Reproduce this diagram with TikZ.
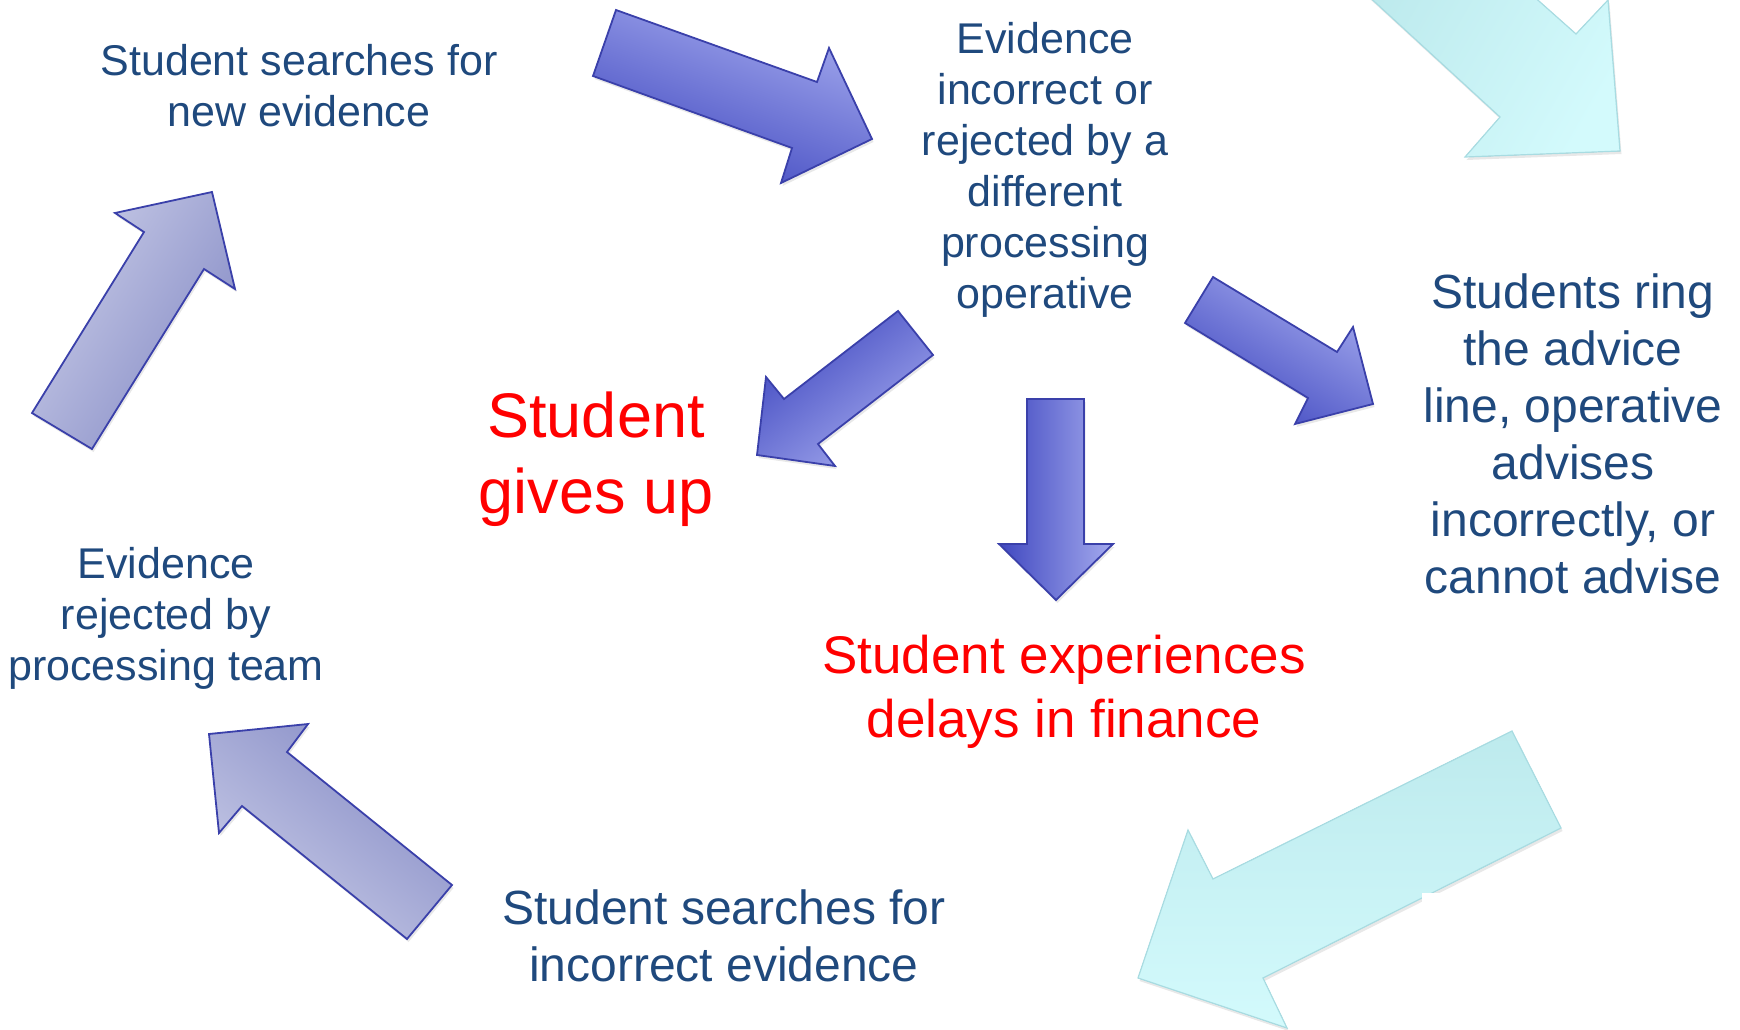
\documentclass[tikz,border=0pt]{standalone}
\usepackage{fontspec}
\setmainfont{Liberation Sans}
\usepackage{tikz}
\usetikzlibrary{shadows}
\definecolor{navytext}{HTML}{1F497D}
\definecolor{alarmred}{HTML}{FF0000}
\definecolor{bluedark}{HTML}{4048C0}
\definecolor{bluelight}{HTML}{A4AAEE}
\definecolor{blueline}{HTML}{3A40AA}
\definecolor{lilacdark}{HTML}{868CC6}
\definecolor{lilaclight}{HTML}{C8CBE7}
\definecolor{cyandark}{HTML}{BDEAED}
\definecolor{cyanlight}{HTML}{D3FAFC}
\definecolor{cyanline}{HTML}{A8DCE2}
\tikzset{
  every node/.style = {inner sep=0pt, align=center, anchor=north},
}

\begin{document}
\begin{tikzpicture}[
    x=1pt, y=-1pt,
    softshadow/.style={drop shadow={opacity=0.18, shadow xshift=1.5pt, shadow yshift=-3pt}},
    bluearrow/.style={draw=blueline, line width=1.8pt, line join=miter, left color=bluedark, right color=bluelight, shading angle=#1, softshadow},
    lilacarrow/.style={draw=blueline, line width=1.8pt, line join=miter, left color=lilacdark, right color=lilaclight, shading angle=#1, softshadow},
    cyanarrow/.style={draw=cyanline, line width=1.2pt, line join=miter, left color=cyandark, right color=cyanlight, shading angle=#1, softshadow},
    smalltext/.style={text=navytext, font=\fontsize{43}{51}\selectfont},
    bigtext/.style={text=navytext, font=\fontsize{48}{57}\selectfont},
    redbig/.style={text=alarmred, font=\fontsize{63}{76}\selectfont},
    redmid/.style={text=alarmred, font=\fontsize{53}{64}\selectfont},
    ]
    \useasboundingbox (0,0) rectangle (1740,1030);
    \clip (0,0) rectangle (1740,1030);
    \filldraw[bluearrow=160] (616,10) -- (817,82) -- (829,48) -- (872,139) -- (781,183) -- (792,148) -- (593,76) -- cycle;
    \filldraw[bluearrow=38] (898,311) -- (933,355) -- (818,444) -- (835,466) -- (757,455) -- (766,377) -- (784,399) -- cycle;
    \filldraw[bluearrow=90] (1027,399) -- (1084,399) -- (1084,544) -- (1113,544) -- (1056,600) -- (999,544) -- (1027,544) -- cycle;
    \filldraw[bluearrow=149] (1213,277) -- (1337,352) -- (1353,327) -- (1373,404) -- (1295,424) -- (1308,398) -- (1185,323) -- cycle;
    \filldraw[lilacarrow=238] (32,413) -- (144,232) -- (115,213) -- (212,192) -- (235,289) -- (204,269) -- (92,449) -- cycle;
    \filldraw[lilacarrow=321] (452,885) -- (287,752) -- (308,724) -- (209,734) -- (219,833) -- (242,806) -- (407,939) -- cycle;
    \filldraw[cyanarrow=60] (1340,-30) -- (1500,117) -- (1465,157) -- (1620,151) -- (1608,0) -- (1576,34) -- (1504,-30) -- cycle;
    \filldraw[cyanarrow=0] (1512,731) -- (1561,828) -- (1263,978) -- (1287,1028) -- (1138,978) -- (1188,830) -- (1213,879) -- cycle;
    \fill[white] (1422,893) rectangle (1745,1035);
    \node[smalltext] (newsearch) at (299,44) {Student searches for\\new evidence};
    \node[smalltext] (opreject) at (1045,22) {Evidence\\incorrect or\\rejected by a\\different\\processing\\operative};
    \node[bigtext] (adviceline) at (1573,274) {Students ring\\the advice\\line, operative\\advises\\incorrectly, or\\cannot advise};
    \node[redbig] (givesup) at (596,392) {Student\\gives up};
    \node[redmid] (delays) at (1064,635) {Student experiences\\delays in finance};
    \node[smalltext] (teamreject) at (166,547) {Evidence\\rejected by\\processing team};
    \node[bigtext] (wrongsearch) at (724,890) {Student searches for\\incorrect evidence};
\end{tikzpicture}
\end{document}
